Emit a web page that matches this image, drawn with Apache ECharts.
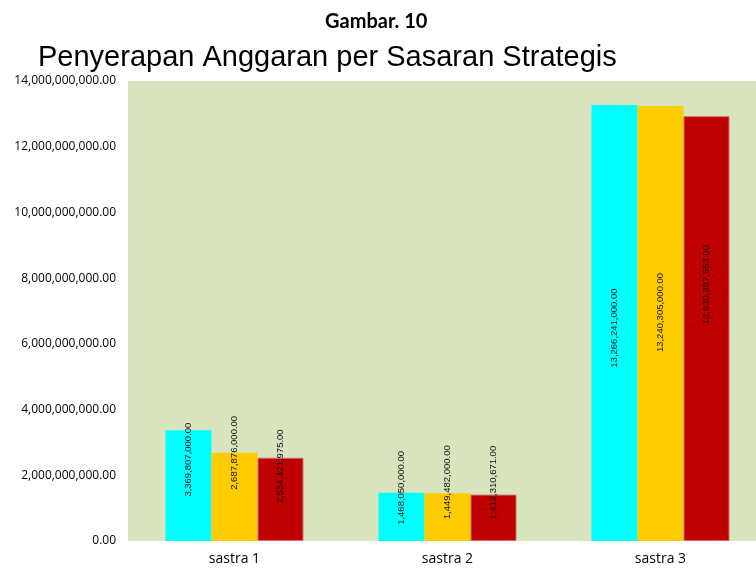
<!DOCTYPE html>
<html>
<head>
<meta charset="utf-8">
<script src="https://cdn.jsdelivr.net/npm/echarts@6/dist/echarts.min.js"></script>
<style>
  html, body { margin: 0; padding: 0; background: #fff; overflow: hidden; }
  /* the plot area runs past the right edge of the picture, so the canvas is a bit wider than the window */
  #chart { width: 767px; height: 576px; }
</style>
</head>
<body>
<div id="chart"></div>
<script>
// data
var categories = ['sastra 1', 'sastra 2', 'sastra 3'];
var seriesA = [3369807000, 1468050000, 13266241000];
var seriesB = [2687876000, 1449482000, 13240305000];
var seriesC = [2534421975, 1412310671, 12930387553];
var yTicks = [0, 2e9, 4e9, 6e9, 8e9, 10e9, 12e9, 14e9];

// how far (px) each label sits above the middle of its bar, like in the Excel original
var liftA = [26, 29, -5];
var liftB = [44, 35, 11];
var liftC = [33, 35, 44];

function fmt(v) {
    return Number(v).toLocaleString('en-US', { minimumFractionDigits: 2, maximumFractionDigits: 2 });
}

// label is rotated 90deg, so its local x axis points up the screen
function makeData(values, lifts) {
    return values.map(function (v, i) {
        return { value: v, label: { offset: [lifts[i], 0] } };
    });
}

var labelStyle = {
    show: true,
    position: 'inside',
    rotate: 90,
    fontFamily: 'Liberation Sans',
    fontSize: 9.5,
    color: '#111',
    formatter: function (p) { return fmt(p.value); }
};

var chart = echarts.init(document.getElementById('chart'));

var option = {
    animation: false,
    title: [{
        text: 'Gambar. 10',
        left: 320,
        top: 7,
        textStyle: { fontFamily: 'Lato', fontWeight: 'bold', fontSize: 20, color: '#000' }
    }, {
        text: 'Penyerapan Anggaran per Sasaran Strategis',
        left: 33,
        top: 38,
        textStyle: { fontFamily: 'Liberation Sans', fontWeight: 'normal', fontSize: 29, color: '#000' }
    }],
    grid: {
        left: 128,
        top: 81,
        bottom: 35,
        width: 639,
        show: true,
        backgroundColor: '#D7E4BD',
        borderWidth: 0
    },
    xAxis: {
        type: 'category',
        data: categories,
        axisLine: { show: false },
        axisTick: { show: false },
        axisLabel: { fontFamily: 'Open Sans', fontSize: 14, color: '#000', margin: 11 }
    },
    yAxis: {
        type: 'value',
        min: yTicks[0],
        max: yTicks[yTicks.length - 1],
        interval: yTicks[1] - yTicks[0],
        splitLine: { show: false },
        axisLine: { show: false },
        axisTick: { show: false },
        axisLabel: {
            fontFamily: 'Open Sans', fontSize: 12, color: '#000', margin: 12,
            formatter: function (v) { return fmt(v); }
        }
    },
    series: [{
        name: 'Seri 1',
        type: 'bar',
        barWidth: 46,
        barGap: '0%',
        itemStyle: { color: '#00FFFF' },
        label: labelStyle,
        data: makeData(seriesA, liftA)
    }, {
        name: 'Seri 2',
        type: 'bar',
        barWidth: 46,
        barGap: '0%',
        itemStyle: { color: '#FFCC00' },
        label: labelStyle,
        data: makeData(seriesB, liftB)
    }, {
        name: 'Seri 3',
        type: 'bar',
        barWidth: 46,
        barGap: '0%',
        itemStyle: { color: '#C00000', borderColor: '#D46A6A', borderWidth: 1 },
        label: labelStyle,
        data: makeData(seriesC, liftC)
    }]
};

chart.setOption(option);
</script>
</body>
</html>
